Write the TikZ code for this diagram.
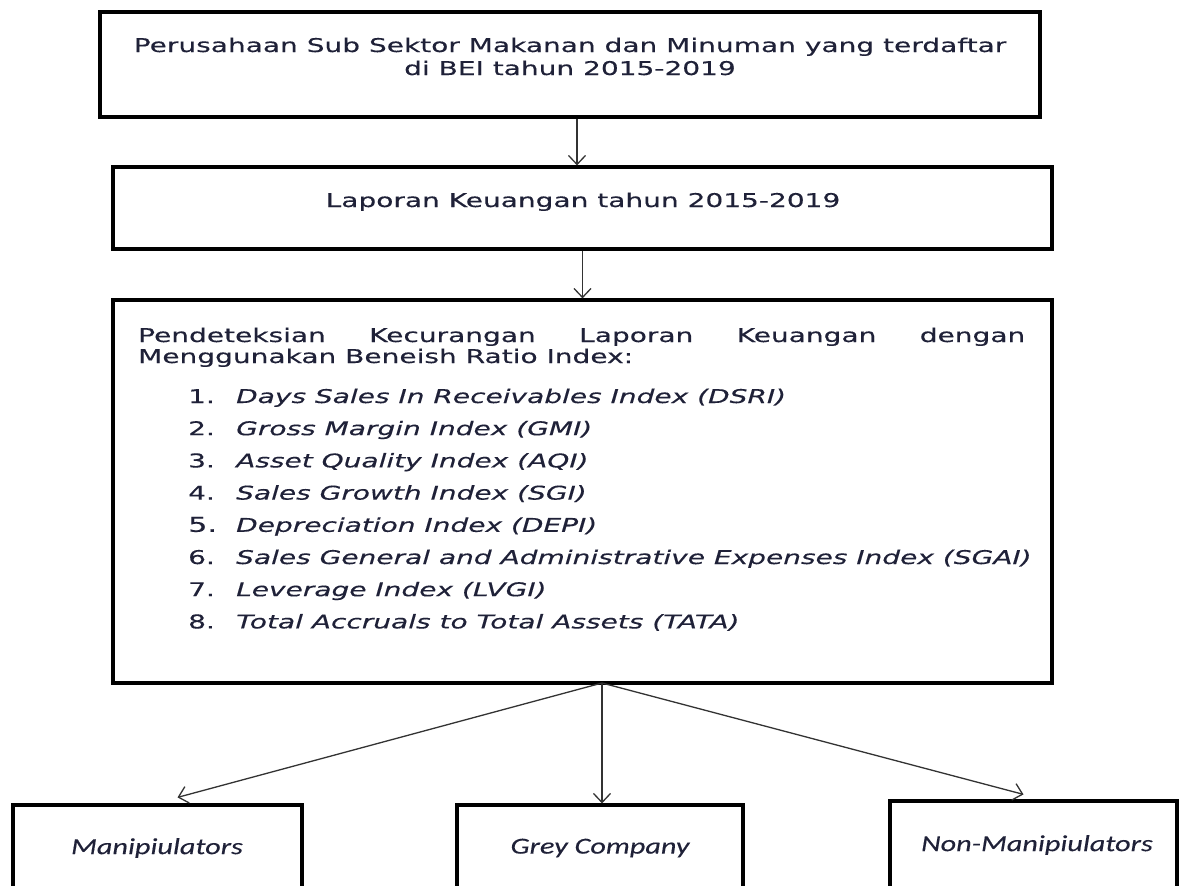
\documentclass[tikz,border=0pt]{standalone}
\usepackage{fontspec}
\usetikzlibrary{arrows.meta}
\newfontfamily\verd[FakeStretch=1.48,FakeBold=0.3]{DejaVu Sans}
\newfontfamily\cali[FakeStretch=1.32,FakeBold=0.2]{Carlito}
\definecolor{ink}{rgb}{0.12,0.13,0.22}
\begin{document}
\begin{tikzpicture}[x=1bp,y=-1bp,
  box/.style={draw=black, line width=3.2bp, fill=white, inner sep=0pt},
  conn/.style={draw=black!80, line width=1.3bp, -{Straight Barb[length=9bp,width=17bp,line width=1.3bp]}},
  txt/.style={font=\verd\fontsize{19}{21}\selectfont, text=ink, inner sep=0pt},
  lbl/.style={font=\cali\itshape\fontsize{23}{26}\selectfont, text=ink, inner sep=0pt}]
\useasboundingbox (0,0) rectangle (1179,886);
\clip (0,0) rectangle (1179,886);
\fill[white] (0,0) rectangle (1179,886);
% boxes
\node[box, minimum width=940bp, minimum height=105bp] (b1) at (570,64.5) {};
\node[box, minimum width=939bp, minimum height=82bp] (b2) at (582.5,208) {};
\node[box, minimum width=939bp, minimum height=383bp] (b3) at (582.5,491.5) {};
\node[box, minimum width=289bp, minimum height=95bp] (m) at (157.5,852.5) {};
\node[box, minimum width=286bp, minimum height=95bp] (g) at (600,852.5) {};
\node[box, minimum width=287bp, minimum height=99bp] (n) at (1033.5,850.5) {};
% texts
\node[txt, anchor=base] (t1a) at (570,52) {Perusahaan Sub Sektor Makanan dan Minuman yang terdaftar};
\node[txt, anchor=base] (t1b) at (570,75) {di BEI tahun 2015-2019};
\node[txt, anchor=base] (t2) at (583,207) {Laporan Keuangan tahun 2015-2019};
\node[txt, anchor=base west] (h1) at (138,342)
  {\makebox[887bp][s]{Pendeteksian Kecurangan Laporan Keuangan dengan}};
\node[txt, anchor=base west] (h2) at (138,363) {Menggunakan Beneish Ratio Index:};
\foreach \i/\t in {1/Days Sales In Receivables Index (DSRI),
                   2/Gross Margin Index (GMI),
                   3/Asset Quality Index (AQI),
                   4/Sales Growth Index (SGI),
                   6/Sales General and Administrative Expenses Index (SGAI),
                   7/Leverage Index (LVGI),
                   8/Total Accruals to Total Assets (TATA)}{
  \node[txt, anchor=base west] (num\i) at (188,{403+32.2*(\i-1)}) {\i.};
  \node[txt, anchor=base west] (it\i) at (236,{403+32.2*(\i-1)}) {\itshape\t};
}
\node[txt, anchor=base west, font=\verd\fontsize{20.5}{21}\selectfont] (num5) at (188,{403+32.2*4}) {5.};
\node[txt, anchor=base west] (it5) at (236,{403+32.2*4}) {\itshape Depreciation Index (DEPI)};
\node[lbl] (lm) at (157,848) {Manipiulators};
\node[lbl] (lg) at (600,848) {Grey Company};
\node[lbl] (ln) at (1037,845) {Non-Manipiulators};
% connectors
\draw[conn] ([xshift=7bp]b1.south) -- ([xshift=7bp]b1.south |- b2.north);
\draw[conn] (b2.south) -- (b3.north);
\coordinate (split) at (602,683);
\draw[conn] (split) -- ([xshift=20bp,yshift=6bp]m.north);
\draw[conn] (split) -- (split |- g.north);
\draw[conn] (split) -- ([xshift=-10bp,yshift=5bp]n.north);
\end{tikzpicture}
\end{document}
